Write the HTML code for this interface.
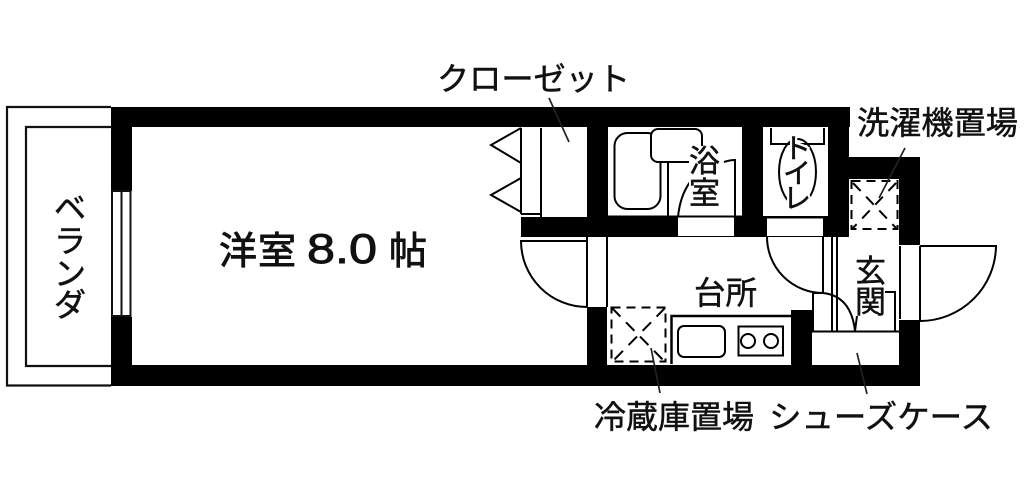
<!DOCTYPE html>
<html lang="ja"><head><meta charset="utf-8">
<style>
html,body{margin:0;padding:0;background:#fff;width:1024px;height:486px;overflow:hidden}
svg{display:block}
text{font-family:"Liberation Sans","Noto Sans CJK JP",sans-serif;fill:#111}
</style></head><body>
<svg width="1024" height="486" viewBox="0 0 1024 486" xmlns="http://www.w3.org/2000/svg">
<rect width="1024" height="486" fill="#fff"/>
<!-- balcony -->
<path d="M111 107H7V385.500H111M111 366H26V127H111" fill="none" stroke="#111" stroke-width="2.200"/>
<!-- walls -->
<g fill="#000">
<rect x="111" y="107" width="739" height="20"/>
<rect x="111" y="107" width="21" height="279"/>
<rect x="111" y="365" width="809" height="21"/>
<rect x="521" y="217" width="86" height="20"/>
<rect x="587" y="107" width="21" height="130"/>
<rect x="607" y="216" width="242" height="21"/>
<rect x="742" y="107" width="21" height="130"/>
<rect x="828" y="107" width="21" height="130"/>
<rect x="828" y="157" width="92" height="22"/>
<rect x="899" y="157" width="21" height="88"/>
<rect x="899" y="320" width="21" height="66"/>
<rect x="587" y="307" width="20" height="78"/>
<rect x="791" y="310" width="21" height="75"/>
</g>
<!-- window -->
<rect x="111" y="191" width="21" height="126" fill="#fff"/>
<path d="M112 191V316H130.500V191ZM121.500 191V316" fill="none" stroke="#111" stroke-width="2"/>
<!-- closet -->
<path d="M521 128V214M541 128V217M521 214H541M521 128L491 145L521 163M521 178L491 195L521 212" fill="none" stroke="#000" stroke-width="2"/>
<line x1="549" y1="98" x2="569" y2="142" stroke="#222" stroke-width="1.700"/>
<!-- bath -->
<rect x="678" y="217" width="56" height="19" fill="#fff"/>
<rect x="614.500" y="133" width="46" height="76" rx="13" fill="none" stroke="#000" stroke-width="2"/>
<rect x="651" y="129" width="51" height="33" rx="7" fill="#fff" stroke="#000" stroke-width="2"/>
<path d="M668 163V217M608 216.500H742M724 162Q730 160 735 160V217M678 217Q680 196 690 182" fill="none" stroke="#000" stroke-width="2"/>
<rect x="689" y="146" width="31" height="58" fill="#fff"/>
<!-- toilet -->
<rect x="767" y="218" width="56" height="18" fill="#fff"/>
<path d="M771 128V144H824V128M767 217.500H828" fill="none" stroke="#000" stroke-width="2"/>
<ellipse cx="797.500" cy="172" rx="18.500" ry="33" fill="none" stroke="#000" stroke-width="2"/>
<!-- laundry -->
<rect x="851.500" y="181" width="46" height="48" fill="none" stroke="#000" stroke-width="2" stroke-dasharray="9 6"/>
<path d="M853 183L896 228M896 183L853 228" fill="none" stroke="#000" stroke-width="2" stroke-dasharray="11 8"/>
<line x1="905" y1="148" x2="879" y2="198" stroke="#222" stroke-width="1.700"/>
<!-- left door -->
<rect x="587" y="241" width="20" height="66" fill="#fff"/>
<path d="M521 241H587V307A66 66 0 0 1 521 241ZM587 237V307M607 237V307" fill="none" stroke="#000" stroke-width="2"/>
<!-- fridge -->
<rect x="611.500" y="307.500" width="54" height="54" fill="none" stroke="#000" stroke-width="2" stroke-dasharray="9 6"/>
<path d="M612 308L665 362M665 308L612 362" fill="none" stroke="#000" stroke-width="2" stroke-dasharray="12 8"/>
<line x1="651" y1="348" x2="660" y2="393" stroke="#222" stroke-width="1.700"/>
<!-- counter -->
<path d="M671.500 364V316H791" fill="none" stroke="#000" stroke-width="2.500"/>
<rect x="678" y="326" width="47" height="31" rx="6" fill="none" stroke="#000" stroke-width="2"/>
<rect x="738.500" y="326.500" width="44.500" height="29" fill="none" stroke="#000" stroke-width="2"/>
<circle cx="748" cy="341" r="7" fill="none" stroke="#000" stroke-width="2"/>
<circle cx="771" cy="341" r="7" fill="none" stroke="#000" stroke-width="2"/>
<!-- toilet door and entry -->
<path d="M767 237A56 56 0 0 0 823 293V237M823 293Q851 296 855 331M813 331V293H823M832 237V331M837 237V331" fill="none" stroke="#000" stroke-width="2"/>
<path d="M812 331.500H899" fill="none" stroke="#000" stroke-width="2"/>
<path d="M885 292H895V331M857 316L855 331" fill="none" stroke="#000" stroke-width="2"/>
<line x1="857" y1="353" x2="867" y2="394" stroke="#222" stroke-width="1.700"/>
<!-- right door -->
<rect x="900" y="246" width="20" height="73" fill="#fff"/>
<path d="M900 246V319M920 246V321M920 246H996A76 76 0 0 1 920 321" fill="none" stroke="#000" stroke-width="2"/>
<!-- labels -->
<g font-size="32" stroke="#111" stroke-width=".5">
<text x="437" y="90" textLength="193" lengthAdjust="spacingAndGlyphs">クローゼット</text>
<text x="857" y="134" textLength="161" lengthAdjust="spacingAndGlyphs">洗濯機置場</text>
<text x="594" y="428" textLength="160" lengthAdjust="spacingAndGlyphs">冷蔵庫置場</text>
<text x="769" y="428" textLength="224" lengthAdjust="spacingAndGlyphs">シューズケース</text>
<text x="694" y="304" textLength="63" lengthAdjust="spacingAndGlyphs">台所</text>
<text x="689" y="172" font-size="31">浴</text>
<text x="689" y="204" font-size="31">室</text>
<text x="855" y="282" font-size="31">玄</text>
<text x="855" y="313" font-size="31">関</text>
<text x="54" y="219">ベ</text>
<text x="54" y="252">ラ</text>
<text x="54" y="285">ン</text>
<text x="54" y="316">ダ</text>
</g>
<g font-size="28" style="paint-order:stroke" stroke="#fff" stroke-width="5">
<text x="783" y="158">ト</text>
<text x="783" y="183">イ</text>
<text x="783" y="208">レ</text>
</g>
<g font-size="28" stroke="#111" stroke-width=".5" fill="none">
<text x="783" y="158">ト</text>
<text x="783" y="183">イ</text>
<text x="783" y="208">レ</text>
</g>
<g stroke="#111" stroke-width=".9">
<text x="219" y="264" font-size="38">洋</text>
<text x="258" y="264" font-size="38">室</text>
<text x="389" y="264" font-size="38">帖</text>
<text x="307" y="263" font-size="42" textLength="70" lengthAdjust="spacingAndGlyphs">8.0</text>
</g>
</svg>
</body></html>
